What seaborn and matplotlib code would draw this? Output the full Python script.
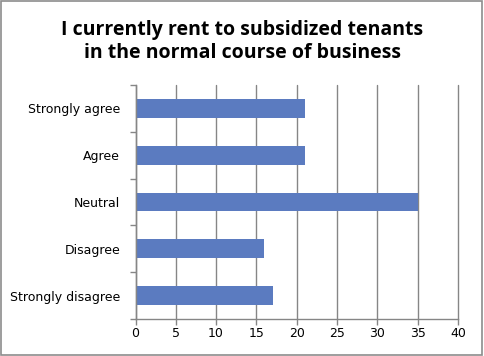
import matplotlib
matplotlib.use("Agg")
import matplotlib.pyplot as plt
import seaborn as sns
import pandas as pd
from matplotlib.patches import Rectangle

categories = ["Strongly agree", "Agree", "Neutral", "Disagree", "Strongly disagree"]
values = [21, 21, 35, 16, 17]
x_ticks = [0, 5, 10, 15, 20, 25, 30, 35, 40]
title = "I currently rent to subsidized tenants\nin the normal course of business"

sns.set_theme(style="white")
plt.rcParams['font.family'] = ['DejaVu Sans']
plt.rcParams['text.color'] = 'black'
plt.rcParams['xtick.color'] = 'black'
plt.rcParams['ytick.color'] = 'black'

df = pd.DataFrame({"category": categories, "value": values})

fig = plt.figure(figsize=(4.84, 3.56), dpi=100)
ax = fig.add_axes([0.280, 0.104, 0.666, 0.657])
sns.barplot(data=df, x="value", y="category", order=categories, color="#5B7BC0",
            saturation=1, width=0.4, linewidth=0, edgecolor="none", ax=ax)

grid_c = "#868686"
ax.set_xlim(0, 40)
ax.set_ylim(4.5, -0.5)
ax.set_xticks(x_ticks)
ax.set_xticklabels([str(t) for t in x_ticks], fontsize=9, color="black")
ax.set_yticks(range(len(categories)))
ax.set_yticklabels(categories, fontsize=9, color="black")
ax.set_xlabel("")
ax.set_ylabel("")
ax.xaxis.grid(True, color=grid_c, linewidth=1)
for gl in ax.xaxis.get_gridlines():
    gl.set_clip_on(False)
ax.set_axisbelow(True)
for s in ["top", "right"]:
    ax.spines[s].set_visible(False)
for s in ["left", "bottom"]:
    ax.spines[s].set_color(grid_c)
    ax.spines[s].set_linewidth(1)

ax.tick_params(axis="x", which="major", length=4, color=grid_c, width=1, pad=2, bottom=True)
ax.tick_params(axis="y", which="major", length=0, pad=11, left=False)
ax.set_yticks([i - 0.5 for i in range(len(categories) + 1)], minor=True)
ax.tick_params(axis="y", which="minor", length=4, color=grid_c, width=1, left=True)

fig.text(0.5, 0.945, title, ha="center", va="top", fontsize=14, fontweight="bold",
         family=["Open Sans"], linespacing=1.25, color="black")

fig.patches.append(Rectangle((0.002, 0.003), 0.994, 0.993, transform=fig.transFigure,
                             fill=False, edgecolor="#8c8c8c", linewidth=1.2))

fig.savefig("out.png", dpi=100)
